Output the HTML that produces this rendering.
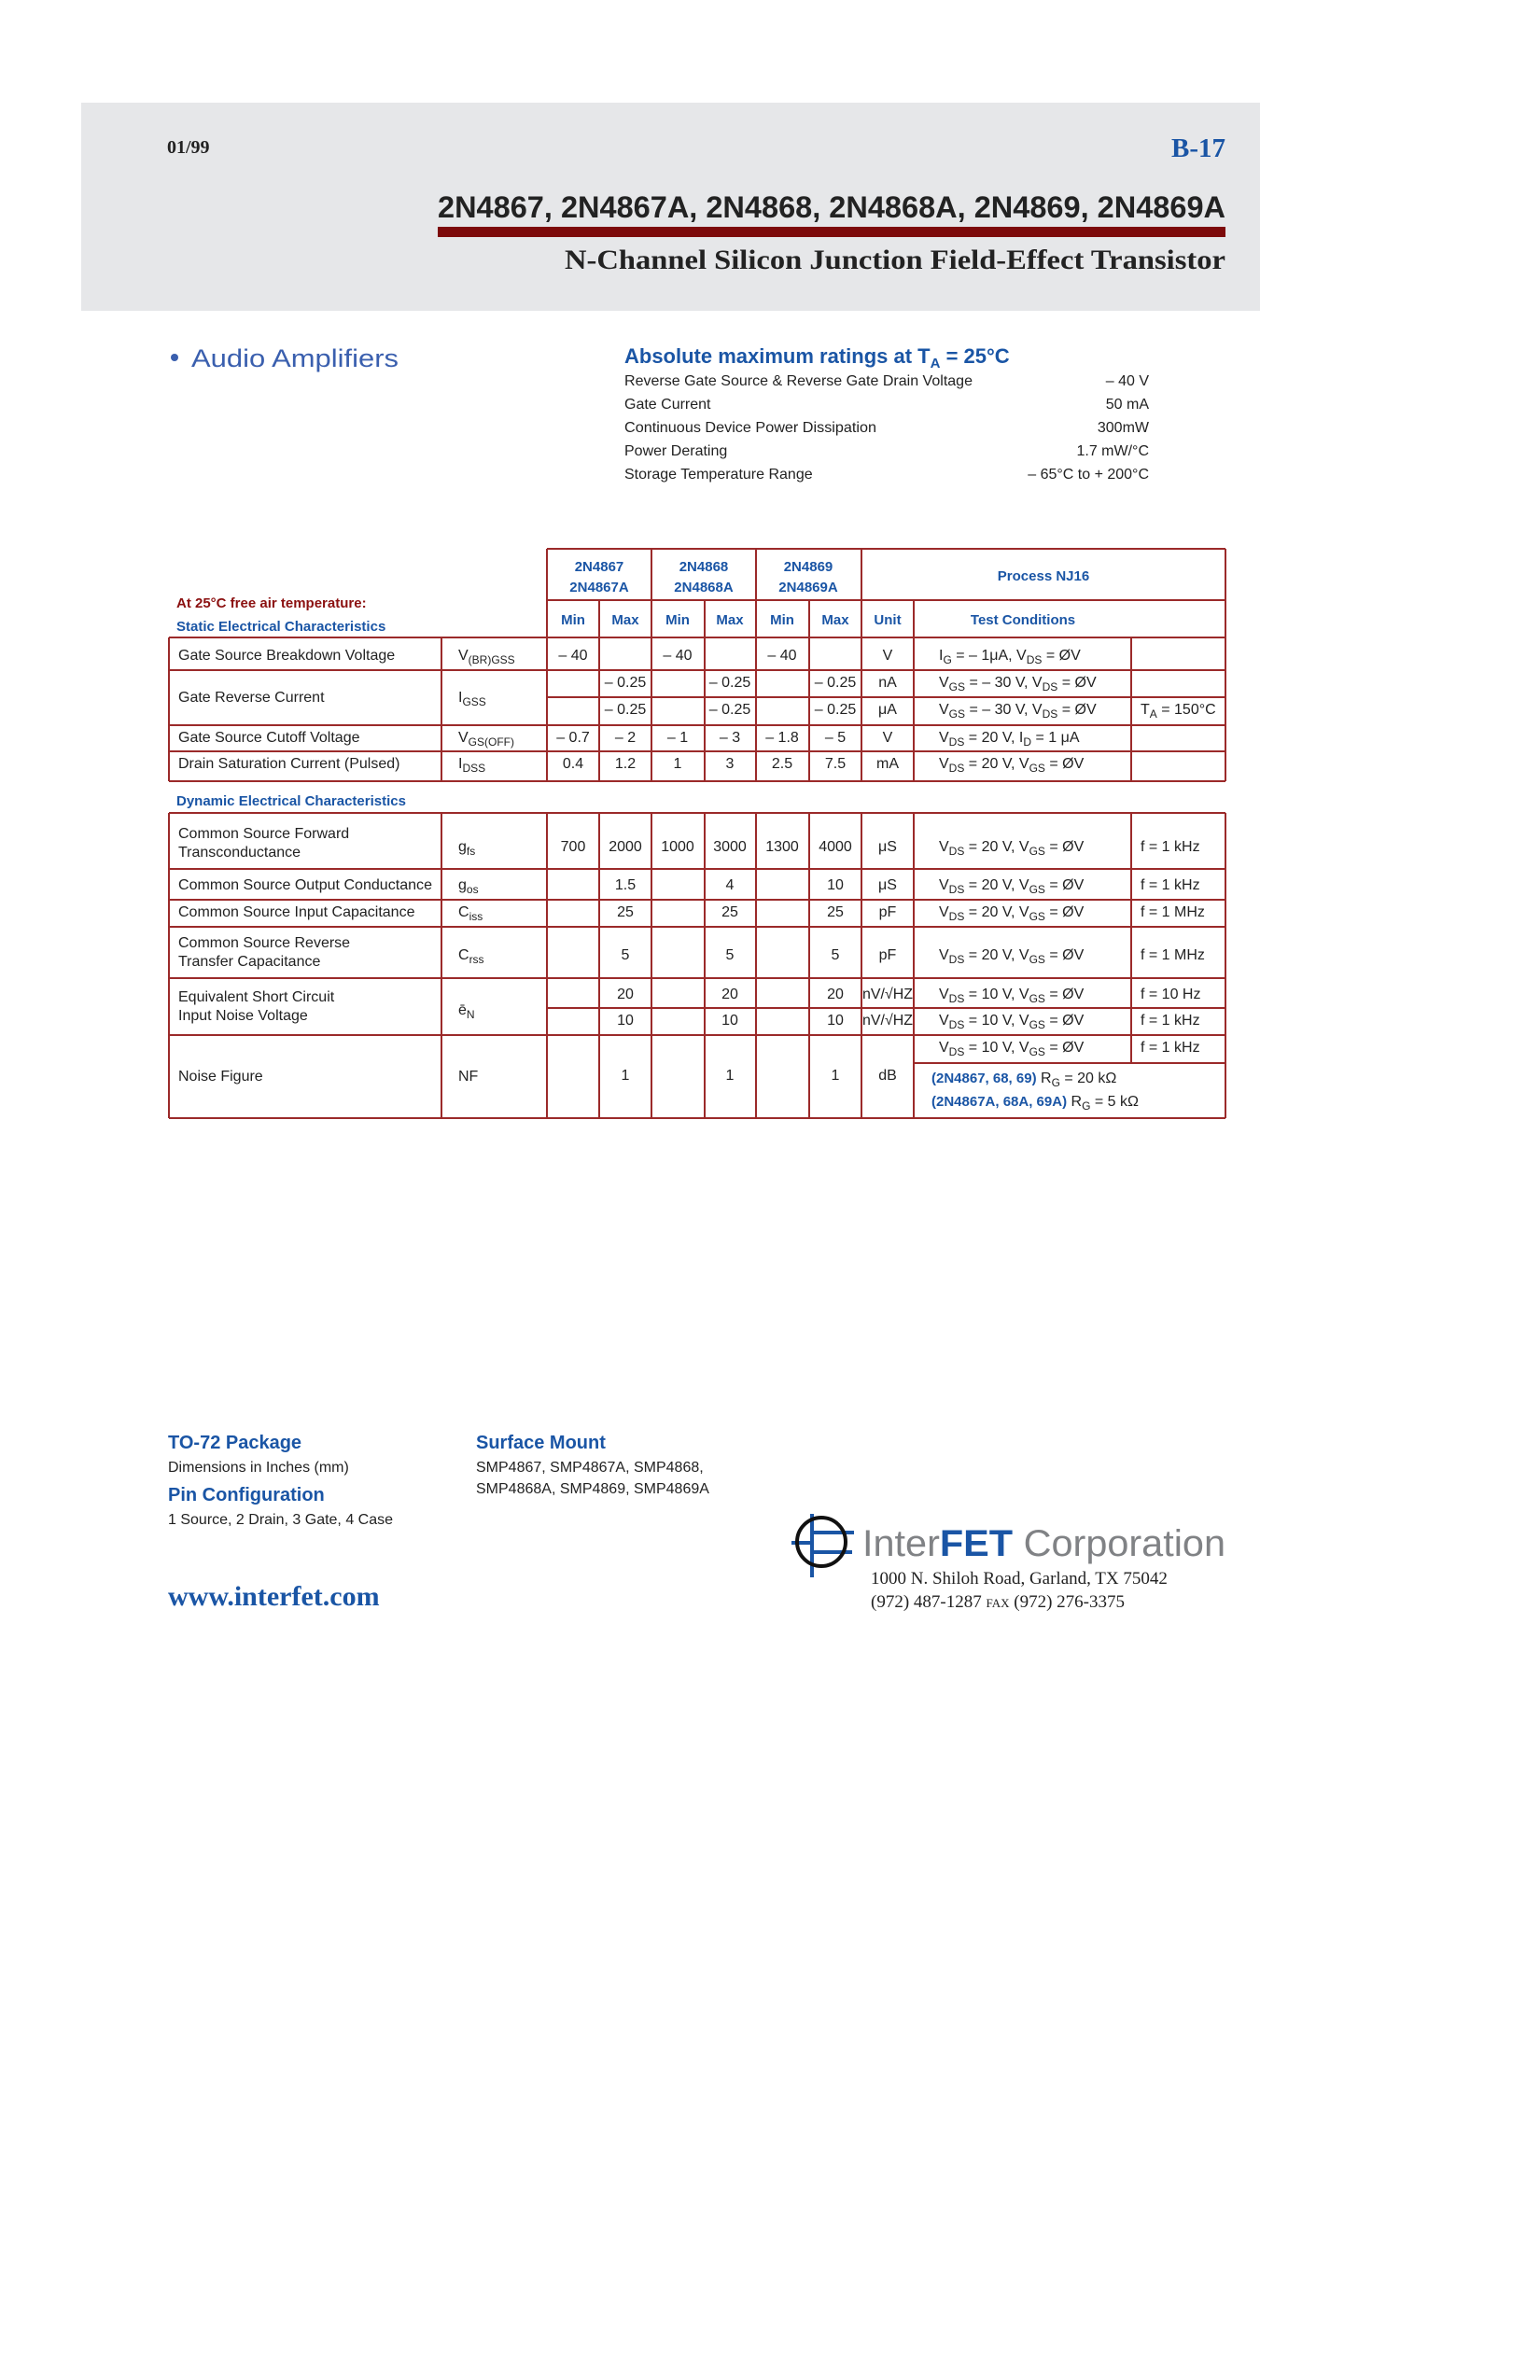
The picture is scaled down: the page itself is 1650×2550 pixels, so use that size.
<!DOCTYPE html>
<html><head><meta charset="utf-8"><style>
html,body{margin:0;padding:0;background:#fff;}
svg{display:block;}
text{font-family:"Liberation Sans",sans-serif;}
.s{font-family:"Liberation Serif",serif;}
.c{font-size:16px;fill:#222;}
.m{text-anchor:middle;}
.hb{font-size:15px;font-weight:bold;fill:#1a55a5;}
.bl{fill:#1a55a5;}
</style></head><body>
<svg width="1650" height="2550" viewBox="0 0 1650 2550" xmlns="http://www.w3.org/2000/svg">
<rect x="0" y="0" width="1650" height="2550" fill="#fff"/>
<rect x="87" y="110" width="1263" height="223" fill="#e6e7e9"/>
<text x="179" y="164" class="s" font-size="20" font-weight="bold" fill="#222">01/99</text>
<text x="1313" y="168" class="s" font-size="29" font-weight="bold" fill="#1a55a5" text-anchor="end">B-17</text>
<text x="469" y="233" font-size="32" font-weight="bold" fill="#222" textLength="844" lengthAdjust="spacingAndGlyphs">2N4867, 2N4867A, 2N4868, 2N4868A, 2N4869, 2N4869A</text>
<rect x="469" y="243" width="844" height="11" fill="#7d0a0a"/>
<text x="605" y="288" class="s" font-size="30" font-weight="bold" fill="#222" textLength="708" lengthAdjust="spacingAndGlyphs">N-Channel Silicon Junction Field-Effect Transistor</text>

<circle cx="187" cy="383" r="4" fill="#3a5fae"/>
<text x="205" y="393" font-size="27" fill="#3a5fae" textLength="222" lengthAdjust="spacingAndGlyphs">Audio Amplifiers</text>
<text x="669" y="389" font-size="22" font-weight="bold" fill="#1a55a5">Absolute maximum ratings at T<tspan font-size="15" dy="5">A</tspan><tspan dy="-5"> = 25°C</tspan></text>
<g font-size="16" fill="#222">
<text x="669" y="413" textLength="373" lengthAdjust="spacingAndGlyphs">Reverse Gate Source &amp; Reverse Gate Drain Voltage</text>
<text x="669" y="438">Gate Current</text>
<text x="669" y="463" textLength="270" lengthAdjust="spacingAndGlyphs">Continuous Device Power Dissipation</text>
<text x="669" y="488">Power Derating</text>
<text x="669" y="513">Storage Temperature Range</text>
<g text-anchor="end">
<text x="1231" y="413">– 40 V</text>
<text x="1231" y="438">50 mA</text>
<text x="1231" y="463">300mW</text>
<text x="1231" y="488">1.7 mW/°C</text>
<text x="1231" y="513">– 65°C to + 200°C</text>
</g></g>

<!-- static table lines -->
<g stroke="#9b2a2a" stroke-width="2" fill="none">
<line x1="586" y1="588" x2="1313" y2="588"/>
<line x1="586" y1="643" x2="1313" y2="643"/>
<line x1="181" y1="683" x2="1313" y2="683"/>
<line x1="181" y1="718" x2="1313" y2="718"/>
<line x1="586" y1="747" x2="1313" y2="747"/>
<line x1="181" y1="777" x2="1313" y2="777"/>
<line x1="181" y1="805" x2="1313" y2="805"/>
<line x1="181" y1="837" x2="1313" y2="837"/>
<line x1="586" y1="588" x2="586" y2="837"/>
<line x1="698" y1="588" x2="698" y2="837"/>
<line x1="810" y1="588" x2="810" y2="837"/>
<line x1="923" y1="588" x2="923" y2="837"/>
<line x1="1313" y1="588" x2="1313" y2="837"/>
<line x1="642" y1="643" x2="642" y2="837"/>
<line x1="755" y1="643" x2="755" y2="837"/>
<line x1="867" y1="643" x2="867" y2="837"/>
<line x1="979" y1="643" x2="979" y2="837"/>
<line x1="181" y1="683" x2="181" y2="837"/>
<line x1="473" y1="683" x2="473" y2="837"/>
<line x1="1212" y1="683" x2="1212" y2="837"/>
</g>
<g class="hb m">
<text x="642" y="612" class="hb m">2N4867</text><text x="642" y="634" class="hb m">2N4867A</text>
<text x="754" y="612" class="hb m">2N4868</text><text x="754" y="634" class="hb m">2N4868A</text>
<text x="866" y="612" class="hb m">2N4869</text><text x="866" y="634" class="hb m">2N4869A</text>
<text x="1118" y="622" class="hb m">Process NJ16</text>
<text x="614" y="669" class="hb m">Min</text><text x="670" y="669" class="hb m">Max</text>
<text x="726" y="669" class="hb m">Min</text><text x="782" y="669" class="hb m">Max</text>
<text x="838" y="669" class="hb m">Min</text><text x="895" y="669" class="hb m">Max</text>
<text x="951" y="669" class="hb m">Unit</text>
<text x="1096" y="669" class="hb m">Test Conditions</text>
</g>
<text x="189" y="651" font-size="15" font-weight="bold" fill="#8b1010">At 25°C free air temperature:</text>
<text x="189" y="676" class="hb">Static Electrical Characteristics</text>

<g class="c">
<text x="191" y="707" class="c">Gate Source Breakdown Voltage</text>
<text x="491" y="707" class="c">V<tspan font-size="12" dy="4">(BR)GSS</tspan></text>
<text x="614" y="707" class="c m">– 40</text><text x="726" y="707" class="c m">– 40</text><text x="838" y="707" class="c m">– 40</text>
<text x="951" y="707" class="c m">V</text>
<text x="1006" y="707" class="c">I<tspan font-size="12" dy="4">G</tspan><tspan dy="-4"> = – 1μA, V</tspan><tspan font-size="12" dy="4">DS</tspan><tspan dy="-4"> = ØV</tspan></text>

<text x="191" y="752" class="c">Gate Reverse Current</text>
<text x="491" y="752" class="c">I<tspan font-size="12" dy="4">GSS</tspan></text>
<text x="670" y="736" class="c m">– 0.25</text><text x="782" y="736" class="c m">– 0.25</text><text x="895" y="736" class="c m">– 0.25</text>
<text x="951" y="736" class="c m">nA</text>
<text x="1006" y="736" class="c">V<tspan font-size="12" dy="4">GS</tspan><tspan dy="-4"> = – 30 V, V</tspan><tspan font-size="12" dy="4">DS</tspan><tspan dy="-4"> = ØV</tspan></text>
<text x="670" y="765" class="c m">– 0.25</text><text x="782" y="765" class="c m">– 0.25</text><text x="895" y="765" class="c m">– 0.25</text>
<text x="951" y="765" class="c m">μA</text>
<text x="1006" y="765" class="c">V<tspan font-size="12" dy="4">GS</tspan><tspan dy="-4"> = – 30 V, V</tspan><tspan font-size="12" dy="4">DS</tspan><tspan dy="-4"> = ØV</tspan></text>
<text x="1222" y="765" class="c">T<tspan font-size="12" dy="4">A</tspan><tspan dy="-4"> = 150°C</tspan></text>

<text x="191" y="795" class="c">Gate Source Cutoff Voltage</text>
<text x="491" y="795" class="c">V<tspan font-size="12" dy="4">GS(OFF)</tspan></text>
<text x="614" y="795" class="c m">– 0.7</text><text x="670" y="795" class="c m">– 2</text><text x="726" y="795" class="c m">– 1</text><text x="782" y="795" class="c m">– 3</text><text x="838" y="795" class="c m">– 1.8</text><text x="895" y="795" class="c m">– 5</text>
<text x="951" y="795" class="c m">V</text>
<text x="1006" y="795" class="c">V<tspan font-size="12" dy="4">DS</tspan><tspan dy="-4"> = 20 V, I</tspan><tspan font-size="12" dy="4">D</tspan><tspan dy="-4"> = 1 μA</tspan></text>

<text x="191" y="823" class="c">Drain Saturation Current (Pulsed)</text>
<text x="491" y="823" class="c">I<tspan font-size="12" dy="4">DSS</tspan></text>
<text x="614" y="823" class="c m">0.4</text><text x="670" y="823" class="c m">1.2</text><text x="726" y="823" class="c m">1</text><text x="782" y="823" class="c m">3</text><text x="838" y="823" class="c m">2.5</text><text x="895" y="823" class="c m">7.5</text>
<text x="951" y="823" class="c m">mA</text>
<text x="1006" y="823" class="c">V<tspan font-size="12" dy="4">DS</tspan><tspan dy="-4"> = 20 V, V</tspan><tspan font-size="12" dy="4">GS</tspan><tspan dy="-4"> = ØV</tspan></text>
</g>

<text x="189" y="863" class="hb">Dynamic Electrical Characteristics</text>
<g stroke="#9b2a2a" stroke-width="2" fill="none">
<line x1="181" y1="871" x2="1313" y2="871"/>
<line x1="181" y1="931" x2="1313" y2="931"/>
<line x1="181" y1="964" x2="1313" y2="964"/>
<line x1="181" y1="993" x2="1313" y2="993"/>
<line x1="181" y1="1048" x2="1313" y2="1048"/>
<line x1="586" y1="1080" x2="1313" y2="1080"/>
<line x1="181" y1="1109" x2="1313" y2="1109"/>
<line x1="979" y1="1139" x2="1313" y2="1139"/>
<line x1="181" y1="1198" x2="1313" y2="1198"/>
<line x1="181" y1="871" x2="181" y2="1198"/>
<line x1="473" y1="871" x2="473" y2="1198"/>
<line x1="586" y1="871" x2="586" y2="1198"/>
<line x1="642" y1="871" x2="642" y2="1198"/>
<line x1="698" y1="871" x2="698" y2="1198"/>
<line x1="755" y1="871" x2="755" y2="1198"/>
<line x1="810" y1="871" x2="810" y2="1198"/>
<line x1="867" y1="871" x2="867" y2="1198"/>
<line x1="923" y1="871" x2="923" y2="1198"/>
<line x1="979" y1="871" x2="979" y2="1198"/>
<line x1="1212" y1="871" x2="1212" y2="1139"/>
<line x1="1313" y1="871" x2="1313" y2="1198"/>
</g>
<g>
<text x="191" y="898" class="c">Common Source Forward</text>
<text x="191" y="918" class="c">Transconductance</text>
<text x="491" y="912" class="c">g<tspan font-size="12" dy="4">fs</tspan></text>
<text x="614" y="912" class="c m">700</text><text x="670" y="912" class="c m">2000</text><text x="726" y="912" class="c m">1000</text><text x="782" y="912" class="c m">3000</text><text x="838" y="912" class="c m">1300</text><text x="895" y="912" class="c m">4000</text>
<text x="951" y="912" class="c m">μS</text>
<text x="1006" y="912" class="c">V<tspan font-size="12" dy="4">DS</tspan><tspan dy="-4"> = 20 V, V</tspan><tspan font-size="12" dy="4">GS</tspan><tspan dy="-4"> = ØV</tspan></text>
<text x="1222" y="912" class="c">f = 1 kHz</text>

<text x="191" y="953" class="c" textLength="272" lengthAdjust="spacingAndGlyphs">Common Source Output Conductance</text>
<text x="491" y="953" class="c">g<tspan font-size="12" dy="4">os</tspan></text>
<text x="670" y="953" class="c m">1.5</text><text x="782" y="953" class="c m">4</text><text x="895" y="953" class="c m">10</text>
<text x="951" y="953" class="c m">μS</text>
<text x="1006" y="953" class="c">V<tspan font-size="12" dy="4">DS</tspan><tspan dy="-4"> = 20 V, V</tspan><tspan font-size="12" dy="4">GS</tspan><tspan dy="-4"> = ØV</tspan></text>
<text x="1222" y="953" class="c">f = 1 kHz</text>

<text x="191" y="982" class="c">Common Source Input Capacitance</text>
<text x="491" y="982" class="c">C<tspan font-size="12" dy="4">iss</tspan></text>
<text x="670" y="982" class="c m">25</text><text x="782" y="982" class="c m">25</text><text x="895" y="982" class="c m">25</text>
<text x="951" y="982" class="c m">pF</text>
<text x="1006" y="982" class="c">V<tspan font-size="12" dy="4">DS</tspan><tspan dy="-4"> = 20 V, V</tspan><tspan font-size="12" dy="4">GS</tspan><tspan dy="-4"> = ØV</tspan></text>
<text x="1222" y="982" class="c">f = 1 MHz</text>

<text x="191" y="1015" class="c">Common Source Reverse</text>
<text x="191" y="1035" class="c">Transfer Capacitance</text>
<text x="491" y="1028" class="c">C<tspan font-size="12" dy="4">rss</tspan></text>
<text x="670" y="1028" class="c m">5</text><text x="782" y="1028" class="c m">5</text><text x="895" y="1028" class="c m">5</text>
<text x="951" y="1028" class="c m">pF</text>
<text x="1006" y="1028" class="c">V<tspan font-size="12" dy="4">DS</tspan><tspan dy="-4"> = 20 V, V</tspan><tspan font-size="12" dy="4">GS</tspan><tspan dy="-4"> = ØV</tspan></text>
<text x="1222" y="1028" class="c">f = 1 MHz</text>

<text x="191" y="1073" class="c">Equivalent Short Circuit</text>
<text x="191" y="1093" class="c">Input Noise Voltage</text>
<text x="491" y="1087" class="c">ē<tspan font-size="12" dy="4">N</tspan></text>
<text x="670" y="1070" class="c m">20</text><text x="782" y="1070" class="c m">20</text><text x="895" y="1070" class="c m">20</text>
<text x="951" y="1070" class="c m" font-size="14" textLength="54" lengthAdjust="spacingAndGlyphs">nV/√HZ</text>
<text x="1006" y="1070" class="c">V<tspan font-size="12" dy="4">DS</tspan><tspan dy="-4"> = 10 V, V</tspan><tspan font-size="12" dy="4">GS</tspan><tspan dy="-4"> = ØV</tspan></text>
<text x="1222" y="1070" class="c">f = 10 Hz</text>
<text x="670" y="1098" class="c m">10</text><text x="782" y="1098" class="c m">10</text><text x="895" y="1098" class="c m">10</text>
<text x="951" y="1098" class="c m" font-size="14" textLength="54" lengthAdjust="spacingAndGlyphs">nV/√HZ</text>
<text x="1006" y="1098" class="c">V<tspan font-size="12" dy="4">DS</tspan><tspan dy="-4"> = 10 V, V</tspan><tspan font-size="12" dy="4">GS</tspan><tspan dy="-4"> = ØV</tspan></text>
<text x="1222" y="1098" class="c">f = 1 kHz</text>

<text x="191" y="1158" class="c">Noise Figure</text>
<text x="491" y="1158" class="c">NF</text>
<text x="670" y="1157" class="c m">1</text><text x="782" y="1157" class="c m">1</text><text x="895" y="1157" class="c m">1</text>
<text x="951" y="1157" class="c m">dB</text>
<text x="1006" y="1127" class="c">V<tspan font-size="12" dy="4">DS</tspan><tspan dy="-4"> = 10 V, V</tspan><tspan font-size="12" dy="4">GS</tspan><tspan dy="-4"> = ØV</tspan></text>
<text x="1222" y="1127" class="c">f = 1 kHz</text>
<text x="998" y="1160" class="c"><tspan font-weight="bold" fill="#1a55a5" font-size="15">(2N4867, 68, 69)</tspan><tspan>  R</tspan><tspan font-size="12" dy="4">G</tspan><tspan dy="-4"> = 20 kΩ</tspan></text>
<text x="998" y="1185" class="c"><tspan font-weight="bold" fill="#1a55a5" font-size="15">(2N4867A, 68A, 69A)</tspan><tspan>  R</tspan><tspan font-size="12" dy="4">G</tspan><tspan dy="-4"> = 5 kΩ</tspan></text>
</g>

<!-- footer -->
<text x="180" y="1552" font-size="20" font-weight="bold" fill="#1a55a5">TO-72 Package</text>
<text x="180" y="1577" class="c">Dimensions in Inches (mm)</text>
<text x="180" y="1608" font-size="20" font-weight="bold" fill="#1a55a5">Pin Configuration</text>
<text x="180" y="1633" class="c">1 Source, 2 Drain, 3 Gate, 4 Case</text>
<text x="510" y="1552" font-size="20" font-weight="bold" fill="#1a55a5">Surface Mount</text>
<text x="510" y="1577" class="c">SMP4867, SMP4867A, SMP4868,</text>
<text x="510" y="1600" class="c">SMP4868A, SMP4869, SMP4869A</text>
<text x="180" y="1720" class="s" font-size="30" font-weight="bold" fill="#1a55a5">www.interfet.com</text>

<g stroke="#1a55a5" stroke-width="4" fill="none">
<line x1="870" y1="1622" x2="870" y2="1690"/>
<line x1="870" y1="1642" x2="915" y2="1642"/>
<line x1="870" y1="1663" x2="913" y2="1663"/>
<line x1="848" y1="1653" x2="870" y2="1653"/>
</g>
<ellipse cx="880" cy="1652" rx="26" ry="26" stroke="#111" stroke-width="4" fill="none"/>
<text x="924" y="1667" font-size="40" fill="#808285" textLength="389" lengthAdjust="spacingAndGlyphs">Inter<tspan font-weight="bold" fill="#1a55a5">FET</tspan> Corporation</text>
<text x="933" y="1697" class="s" font-size="19" fill="#222">1000 N. Shiloh Road, Garland, TX 75042</text>
<text x="933" y="1722" class="s" font-size="19" fill="#222">(972) 487-1287 <tspan font-size="13">  FAX</tspan> (972) 276-3375</text>
</svg>
</body></html>
